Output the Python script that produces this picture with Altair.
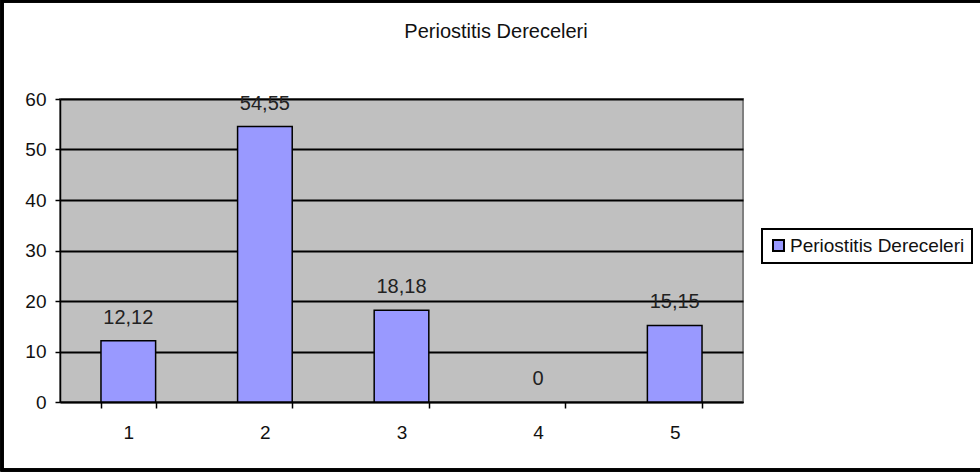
import altair as alt
import pandas as pd

categories = ["1", "2", "3", "4", "5"]
values = [12.12, 54.55, 18.18, 0, 15.15]
series_name = "Periostitis Dereceleri"
chart_title = "Periostitis Dereceleri"


def fmt(v):
    s = f"{v:.2f}".rstrip("0").rstrip(".")
    return s.replace(".", ",")


df = pd.DataFrame({
    "cat": categories,
    "val": values,
    "lab": [fmt(v) for v in values],
    "series": [series_name] * len(values),
})

FONT = "Liberation Sans"
TXT = "#111111"

x_enc = alt.X(
    "cat:N",
    sort=categories,
    scale=alt.Scale(paddingInner=0.6, paddingOuter=0.3),
    axis=alt.Axis(
        title=None, labelAngle=0, tickBand="extent", tickSize=6,
        labelPadding=15, labelFontSize=19, labelFont=FONT, labelColor=TXT,
        domainColor="black", tickColor="black", domainWidth=1.5, tickWidth=1.5,
        grid=False,
    ),
)
y_enc = alt.Y(
    "val:Q",
    scale=alt.Scale(domain=[0, 60]),
    axis=alt.Axis(
        title=None, values=[0, 10, 20, 30, 40, 50, 60], tickSize=5,
        labelPadding=9, labelFontSize=19, labelFont=FONT, labelColor=TXT,
        domainColor="black", tickColor="black", domainWidth=1.5, tickWidth=1.5,
        grid=True, gridColor="black", gridWidth=2,
    ),
)

bars = alt.Chart(df).transform_filter("datum.val > 0").mark_bar(
    stroke="black", strokeWidth=1.5
).encode(
    x=x_enc,
    y=y_enc,
    color=alt.Color(
        "series:N",
        scale=alt.Scale(range=["#9999FF"]),
        legend=alt.Legend(
            title=None, orient="none", legendX=702, legendY=130,
            strokeColor="black", fillColor="white", padding=7,
            labelFontSize=19, labelFont=FONT, labelColor=TXT, labelOffset=2,
            labelLimit=400,
            symbolType="square", symbolSize=121, symbolStrokeColor="black",
            symbolStrokeWidth=2, symbolFillColor="#9999FF",
        ),
    ),
)

labels = alt.Chart(df).mark_text(
    dy=-17, fontSize=20, font=FONT, color="#222222", baseline="alphabetic"
).encode(
    x=alt.X("cat:N", sort=categories),
    y="val:Q",
    text="lab:N",
)

title = alt.Chart(pd.DataFrame({"t": [chart_title]})).mark_text(
    fontSize=20, font=FONT, color=TXT, baseline="alphabetic", align="center"
).encode(
    x=alt.value(436), y=alt.value(-61), text="t:N"
)

border = alt.Chart(df).mark_rect(
    fill=None, stroke="black", strokeWidth=3, clip=False
).encode(
    x=alt.value(-58), x2=alt.value(940), y=alt.value(-98), y2=alt.value(371)
)

chart = alt.layer(border, title, bars, labels).properties(
    width=683,
    height=303,
    autosize="none",
    padding={"left": 60, "top": 99, "right": 237, "bottom": 71},
    background="white",
).configure_view(
    fill="#C0C0C0", stroke="#808080", strokeWidth=2
).configure_legend(
    strokeWidth=2
)

chart.save("out.html", embed_options={"renderer": "svg", "actions": False})
